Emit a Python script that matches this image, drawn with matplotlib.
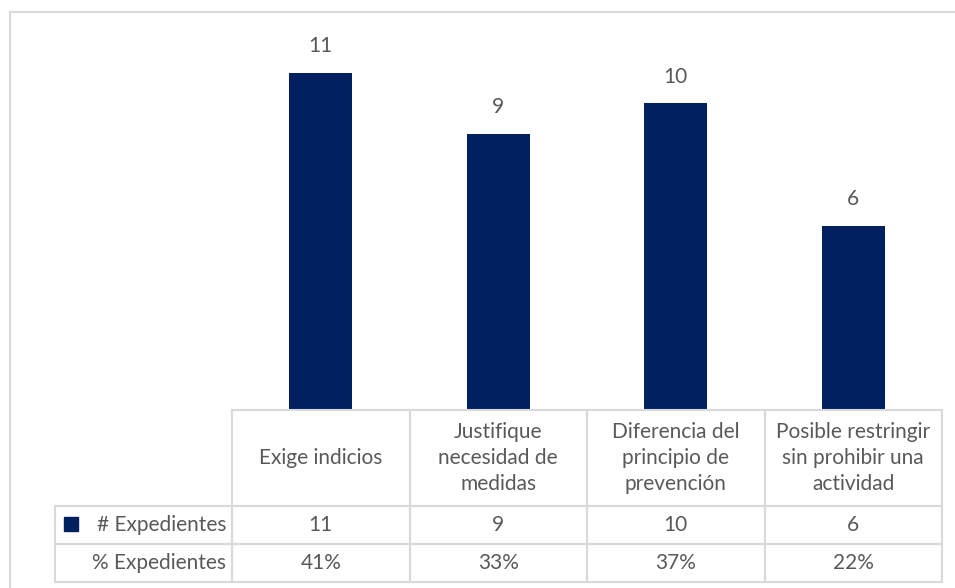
import matplotlib.pyplot as plt
from matplotlib.patches import Rectangle

plt.rcParams['font.family'] = ['Lato', 'DejaVu Sans']

categories = ['Exige indicios', 'Justifique\nnecesidad de\nmedidas',
              'Diferencia del\nprincipio de\nprevención',
              'Posible restringir\nsin prohibir una\nactividad']
counts = [11, 9, 10, 6]
percents = [41, 33, 37, 22]
row_labels = ['# Expedientes', '% Expedientes']

bar_color = '#002060'
text_color = '#595959'
grid_color = '#d9d9d9'
fs = 15

W, H = 955, 588
fig = plt.figure(figsize=(W / 100, H / 100), dpi=100)

# everything below is laid out in pixel units of the figure
def fx(x):
    return x / W

def fy(y):
    return 1 - y / H

# outer chart frame (runs off the right and bottom edges)
fig.patches.append(Rectangle((fx(10), fy(600)), fx(960) - fx(10), fy(12) - fy(600),
                             transform=fig.transFigure, fill=False,
                             edgecolor=grid_color, lw=1.5))

# plot area lines up with the table columns
col_left, col_right = 232, 942
y_zero, y_top = 410, 42
ax = fig.add_axes([fx(col_left), fy(y_zero), fx(col_right) - fx(col_left),
                   fy(y_top) - fy(y_zero)])
x = range(len(counts))
bars = ax.bar(x, counts, width=0.355, color=bar_color)
for b, v in zip(bars, counts):
    ax.annotate(str(v), (b.get_x() + b.get_width() / 2, v), xytext=(0, 12),
                textcoords='offset points', ha='center', va='bottom',
                fontsize=fs, color=text_color)
ax.set_xlim(-0.5, len(counts) - 0.5)
ax.set_ylim(0, 12)
ax.axis('off')

# data table under the bars
label_left = 55
rows_y = [410, 506, 544, 582]
col_w = (col_right - col_left) / len(categories)

def cell(x0, y0, x1, y1):
    fig.patches.append(Rectangle((fx(x0), fy(y1)), fx(x1) - fx(x0), fy(y0) - fy(y1),
                                 transform=fig.transFigure, fill=False,
                                 edgecolor=grid_color, lw=1.5))

for i, cat in enumerate(categories):
    x0 = col_left + i * col_w
    x1 = x0 + col_w
    cell(x0, rows_y[0], x1, rows_y[1])
    fig.text(fx((x0 + x1) / 2), fy((rows_y[0] + rows_y[1]) / 2), cat,
             ha='center', va='center', fontsize=fs, color=text_color,
             linespacing=1.4)
    vals = [str(counts[i]), f'{percents[i]}%']
    for r, v in enumerate(vals):
        cell(x0, rows_y[r + 1], x1, rows_y[r + 2])
        fig.text(fx((x0 + x1) / 2), fy((rows_y[r + 1] + rows_y[r + 2]) / 2), v,
                 ha='center', va='center', fontsize=fs, color=text_color)

for r, lab in enumerate(row_labels):
    cell(label_left, rows_y[r + 1], col_left, rows_y[r + 2])
    fig.text(fx(col_left - 6), fy((rows_y[r + 1] + rows_y[r + 2]) / 2), lab,
             ha='right', va='center', fontsize=fs, color=text_color)

# legend key for the bar series
fig.patches.append(Rectangle((fx(64), fy(531)), fx(14) - fx(0), fy(517) - fy(531),
                             transform=fig.transFigure, color=bar_color))

fig.savefig('out.png', dpi=100)
